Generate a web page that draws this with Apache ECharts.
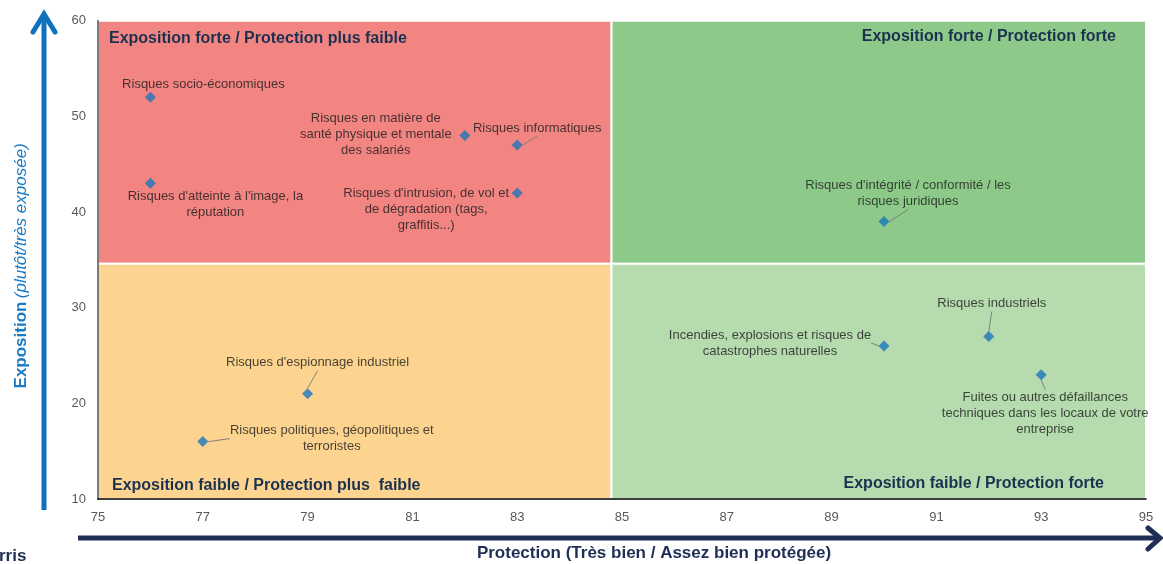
<!DOCTYPE html>
<html>
<head>
<meta charset="utf-8">
<script src="https://cdn.jsdelivr.net/npm/echarts@6/dist/echarts.min.js"></script>
<style>
html, body { margin: 0; padding: 0; background: #fff; }
#main { width: 1163px; height: 564px; }
</style>
</head>
<body>
<div id="main"></div>
<script>
// risques (libellés tels qu'ils sont coupés sur le graphique)
var risques = [
	'Risques socio-économiques',
	'Risques d\'atteinte à l\'image, la\nréputation',
	'Risques en matière de\nsanté physique et mentale\ndes salariés',
	'Risques informatiques',
	'Risques d\'intrusion, de vol et\nde dégradation (tags,\ngraffitis...)',
	'Risques d\'intégrité / conformité / les\nrisques juridiques',
	'Risques industriels',
	'Incendies, explosions et risques de\ncatastrophes naturelles',
	'Fuites ou autres défaillances\ntechniques dans les locaux de votre\nentreprise',
	'Risques d\'espionnage industriel',
	'Risques politiques, géopolitiques et\nterroristes'
];
var protection = [76, 76, 82, 83, 83, 90, 92, 90, 93, 79, 77];
var exposition = [52, 43, 48, 47, 42, 39, 27, 26, 23, 21, 16];
var xTickLabels = [75, 77, 79, 81, 83, 85, 87, 89, 91, 93, 95];
var yTickLabels = [10, 20, 30, 40, 50, 60];

var quadrantTitles = [
	'Exposition forte / Protection plus faible',
	'Exposition forte / Protection forte',
	'Exposition faible / Protection plus  faible',
	'Exposition faible / Protection forte'
];
var splitX = 84.8;
var splitY = 34.6;

// décalage des étiquettes par rapport au point (px) et traits de rappel
var labelOffsets = [[53, -13], [65, 21], [-89, -1], [20, -17], [-91, 17], [24, -28],
	[3, -33], [-114, -3], [4, 39], [10, -31], [129, -3]];
var showLine = [false, false, false, true, false, true, true, true, true, true, true];

var points = risques.map(function(name, i) {
	return {
		name: name,
		value: [protection[i], exposition[i]],
		labelLine: { show: showLine[i] }
	};
});

function quadLabel(i, pos, offset) {
	return {
		show: true,
		formatter: quadrantTitles[i],
		position: pos,
		offset: offset,
		color: '#1C3150',
		fontWeight: 'bold',
		fontSize: 16,
		fontFamily: 'Liberation Sans'
	};
}

var myChart = echarts.init(document.getElementById('main'));
var option = {
	animation: false,
	grid: { left: 98, right: 17, top: 20.7, bottom: 65, outerBoundsMode: 'none' },
	xAxis: {
		type: 'value',
		min: 75,
		max: 95,
		interval: 1,
		z: 10,
		name: 'Protection (Très bien / Assez bien protégée)',
		nameLocation: 'middle',
		nameGap: 46,
		nameTextStyle: { color: '#1F2E55', fontWeight: 'bold', fontSize: 17, fontFamily: 'Liberation Sans', padding: [0, 0, 0, 64] },
		axisLine: { lineStyle: { color: '#000', width: 1.5 } },
		axisTick: { show: false },
		splitLine: { show: false },
		axisLabel: {
			color: '#595959',
			fontSize: 13,
			fontFamily: 'Liberation Sans',
			margin: 12,
			formatter: function(v) { return xTickLabels.indexOf(v) >= 0 ? String(v) : ''; }
		}
	},
	yAxis: {
		type: 'value',
		min: 10,
		max: 60,
		interval: 10,
		z: 10,
		name: '{b|Exposition} {i|(plutôt/très exposée)}',
		nameLocation: 'middle',
		nameRotate: 90,
		nameGap: 68,
		nameTextStyle: {
			padding: [0, 0, 0, -12],
			rich: {
				b: { color: '#1A7BC4', fontWeight: 'bold', fontSize: 17, fontFamily: 'Liberation Sans' },
				i: { color: '#1A7BC4', fontStyle: 'italic', fontSize: 17, fontFamily: 'Liberation Sans' }
			}
		},
		axisLine: { show: true, lineStyle: { color: '#7A7A7A', width: 2 } },
		axisTick: { show: false },
		splitLine: { show: false },
		axisLabel: {
			color: '#595959',
			fontSize: 13,
			fontFamily: 'Liberation Sans',
			margin: 12,
			formatter: function(v) { return yTickLabels.indexOf(v) >= 0 ? String(v) : ''; }
		}
	},
	graphic: [{
		type: 'line',
		shape: { x1: 44, y1: 510, x2: 44, y2: 14 },
		style: { stroke: '#0E72BD', lineWidth: 5 }
	}, {
		type: 'polyline',
		shape: { points: [[33, 32], [44, 14], [55, 32]] },
		style: { stroke: '#0E72BD', lineWidth: 5, fill: null, lineCap: 'round' }
	}, {
		type: 'line',
		shape: { x1: 78, y1: 538, x2: 1158, y2: 538 },
		style: { stroke: '#1F2E55', lineWidth: 5 }
	}, {
		type: 'polyline',
		shape: { points: [[1148, 528], [1160, 538], [1148, 549]] },
		style: { stroke: '#1F2E55', lineWidth: 5, fill: null, lineCap: 'round' }
	}, {
		type: 'text',
		left: -1,
		top: 548,
		style: { text: 'rris', fill: '#1F2E55', font: 'bold 17px "Liberation Sans"' }
	}],
	series: [{
		type: 'scatter',
		symbol: 'diamond',
		symbolSize: 11,
		itemStyle: { color: '#1B75BC' },
		data: points,
		label: {
			show: true,
			position: 'inside',
			formatter: '{b}',
			color: '#1A1A1A',
			fontSize: 13,
			lineHeight: 16,
			fontFamily: 'Liberation Sans',
			align: 'center'
		},
		labelLine: { show: true, lineStyle: { color: '#7F7F7F', width: 1 } },
		labelLayout: function(p) {
			var o = labelOffsets[p.dataIndex];
			return { dx: o[0], dy: o[1] };
		},
		markArea: {
			silent: true,
			data: [
				[{ xAxis: 75, yAxis: 60, itemStyle: { color: '#F28482' },
					label: quadLabel(0, 'insideTopLeft', [7, 6]) },
					{ xAxis: splitX, yAxis: splitY }],
				[{ xAxis: splitX, yAxis: 60, itemStyle: { color: '#8DCA89' },
					label: quadLabel(1, 'insideTopRight', [-26, 4]) },
					{ xAxis: 95, yAxis: splitY }],
				[{ xAxis: 75, yAxis: splitY, itemStyle: { color: '#FCD490' },
					label: quadLabel(2, 'insideBottomLeft', [10, -1]) },
					{ xAxis: splitX, yAxis: 10 }],
				[{ xAxis: splitX, yAxis: splitY, itemStyle: { color: '#B5DBAE' },
					label: quadLabel(3, 'insideBottomRight', [-38, -3]) },
					{ xAxis: 95, yAxis: 10 }]
			],
			itemStyle: { borderColor: '#fff', borderWidth: 2 }
		}
	}]
};
myChart.setOption(option);
</script>
</body>
</html>
